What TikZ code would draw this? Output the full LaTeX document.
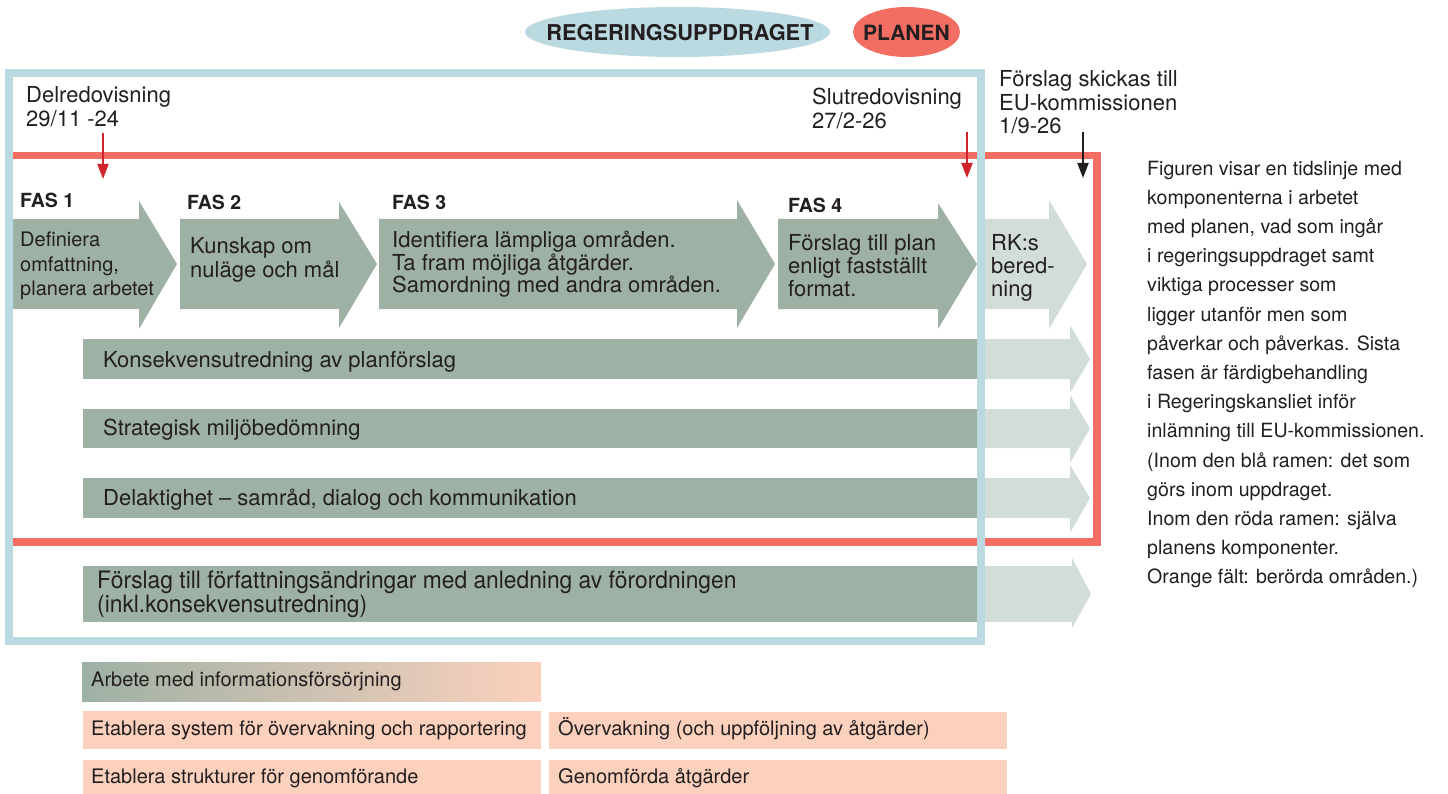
\documentclass[tikz,border=0pt]{standalone}
\usepackage{fontspec}
\setmainfont{TeX Gyre Heros}
\usetikzlibrary{arrows.meta,shapes.geometric}
\definecolor{ink}{HTML}{231F20}
\definecolor{frameblue}{HTML}{BAD9E1}
\definecolor{framered}{HTML}{F26E62}
\definecolor{arrred}{HTML}{D1232A}
\definecolor{darkgreen}{HTML}{9EB1A5}
\definecolor{lightgreen}{HTML}{D3DDD8}
\definecolor{peach}{HTML}{FBD1BD}
\newcommand\arrowshape[8]{%
  \fill[#1] (#2,#3) -- (#5,#3) -- (#5,#6) -- (#8,{(#3+#4)/2}) -- (#5,#7) -- (#5,#4) -- (#2,#4) -- cycle;}
\tikzset{
  txt/.style={inner sep=0pt, text=ink, align=left, anchor=base west},
  fasl/.style={txt, font=\fontsize{19.5}{22}\selectfont\bfseries},
  ph/.style={txt, font=\fontsize{22}{23.5}\selectfont},
  bartxt/.style={txt, font=\fontsize{22}{24}\selectfont},
  boxtxt/.style={txt, font=\fontsize{20}{24}\selectfont},
  redarr/.style={draw=arrred, line width=2pt, -{Triangle[width=11pt,length=15pt]}},
  blkarr/.style={draw=ink, line width=2pt, -{Triangle[width=11pt,length=15pt]}},
  legtxt/.style={inner sep=0pt, text=ink, font=\fontsize{21}{24}\selectfont\bfseries},
}
\begin{document}
\begin{tikzpicture}[x=1pt,y=-1pt]
\useasboundingbox[fill=white] (0,0) rectangle (1448,794);

% legend
\fill[frameblue] (677.5,32) ellipse [x radius=152.5pt, y radius=25pt];
\fill[framered] (906.5,32) ellipse [x radius=53.5pt, y radius=25pt];
\node[legtxt, font=\fontsize{21.8}{24}\selectfont\bfseries] (leg1) at (680,33) {REGERINGSUPPDRAGET};
\node[legtxt] (leg2) at (906.5,33) {PLANEN};

% red frame
\draw[framered, line width=7.5pt] (9,155.5) rectangle (1097,542);

% phase arrows
\arrowshape{darkgreen}{9}{219}{309}{139}{201}{329}{177}
\arrowshape{darkgreen}{180}{219}{309}{339}{202}{328}{377}
\arrowshape{darkgreen}{379}{219}{309}{737}{200}{328}{775}
\arrowshape{darkgreen}{778}{219}{309}{938}{203}{329}{977}
\arrowshape{lightgreen}{981}{219}{309}{1049}{200}{329}{1087}

% long bars
\fill[darkgreen] (83,339) rectangle (981,379);
\arrowshape{lightgreen}{981}{339}{379}{1070}{325}{393}{1090}
\fill[darkgreen] (83,409) rectangle (981,448);
\arrowshape{lightgreen}{981}{409}{448}{1070}{395}{463}{1090}
\fill[darkgreen] (83,478) rectangle (981,518);
\arrowshape{lightgreen}{981}{478}{518}{1070}{465}{533}{1090}
\fill[darkgreen] (83,566) rectangle (981,622);
\arrowshape{lightgreen}{981}{566}{622}{1072}{558}{628}{1091}

% blue frame
\draw[frameblue, line width=8pt] (9,73) rectangle (981,641);

% milestone texts (anchor = baseline of last line)
\node[txt, font=\fontsize{22}{24}\selectfont] (delred) at (26,127) {Delredovisning\\29/11 -24};
\node[txt, font=\fontsize{22}{23.5}\selectfont] (slutred) at (812,128.5) {Slutredovisning\\27/2-26};
\node[txt, font=\fontsize{22}{23.5}\selectfont] (eu) at (999,134) {Förslag skickas till\\EU-kommissionen\\1/9-26};
\coordinate (d1s) at (103,133); \coordinate (d1e) at (103,179);
\coordinate (d2s) at (967,132); \coordinate (d2e) at (967,178);
\coordinate (d3s) at (1083,132); \coordinate (d3e) at (1083,178);
\draw[redarr] (d1s) -- (d1e);
\draw[redarr] (d2s) -- (d2e);
\draw[blkarr] (d3s) -- (d3e);

% phase labels
\node[fasl] (f1) at (20,208) {FAS 1};
\node[fasl] (f2) at (187,210) {FAS 2};
\node[fasl] (f3) at (392,210) {FAS 3};
\node[fasl] (f4) at (788,213) {FAS 4};
\node[txt, font=\fontsize{20}{24}\selectfont] (t1) at (20,295) {Definiera\\omfattning,\\planera arbetet};
\node[ph] (t2) at (190,277.5) {Kunskap om\\nuläge och mål};
\node[txt, font=\fontsize{22}{22.5}\selectfont] (t3) at (392,293) {Identifiera lämpliga områden.\\Ta fram möjliga åtgärder.\\Samordning med andra områden.};
\node[ph] (t4) at (788,297) {Förslag till plan\\enligt fastställt\\format.};
\node[ph] (t5) at (991,297) {RK:s\\bered-\\ning};

% bar texts
\node[bartxt] (b1) at (103,367) {Konsekvensutredning av planförslag};
\node[bartxt] (b2) at (103,435) {Strategisk miljöbedömning};
\node[bartxt] (b3) at (103,505) {Delaktighet – samråd, dialog och kommunikation};
\node[txt, font=\fontsize{24}{22.5}\selectfont\addfontfeature{FakeStretch=0.95}] (b4) at (97,612) {Förslag till författningsändringar med anledning av förordningen\\(inkl.konsekvensutredning)};

% bottom boxes
\shade[left color=darkgreen, right color=peach] (82,662) rectangle (541,701);
\fill[peach] (83,711) rectangle (541,749);
\fill[peach] (83,760) rectangle (541,794);
\fill[peach] (549,712) rectangle (1007,749);
\fill[peach] (549,760) rectangle (1007,794);
\node[boxtxt] (x1) at (91,686) {Arbete med informationsförsörjning};
\node[boxtxt] (x2) at (91,735) {Etablera system för övervakning och rapportering};
\node[boxtxt] (x3) at (91,783) {Etablera strukturer för genomförande};
\node[boxtxt] (x4) at (558,735) {Övervakning (och uppföljning av åtgärder)};
\node[boxtxt] (x5) at (558,783) {Genomförda åtgärder};

% side text
\node[txt, font=\fontsize{19.6}{29.2}\selectfont] (side) at (1147,583.8) {Figuren visar en tidslinje med\\komponenterna i arbetet\\med planen, vad som ingår\\i regeringsuppdraget samt\\viktiga processer som\\ligger utanför men som\\påverkar och påverkas. Sista\\fasen är färdigbehandling\\i Regeringskansliet inför\\inlämning till EU-kommissionen.\\(Inom den blå ramen: det som\\görs inom uppdraget.\\Inom den röda ramen: själva\\planens komponenter.\\Orange fält: berörda områden.)};
\end{tikzpicture}
\end{document}
